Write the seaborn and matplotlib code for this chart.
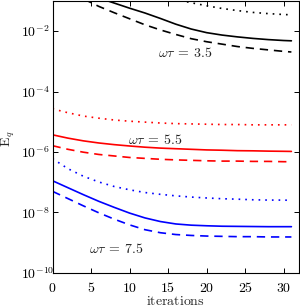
import numpy as np
import pandas as pd
import matplotlib
matplotlib.use("Agg")
import matplotlib.pyplot as plt
import seaborn as sns

# ---- data (log10 of E_q) ----
iterations = [0, 2, 4, 6, 8, 10, 12, 14, 16, 18, 20, 22, 24, 26, 28, 30, 31]

log_wt35_solid = [-0.45, -0.60, -0.75, -0.90, -1.07, -1.24, -1.40, -1.58, -1.77, -1.93,
                  -2.05, -2.13, -2.19, -2.24, -2.28, -2.31, -2.32]
log_wt35_dashed = [-0.45, -0.68, -0.93, -1.18, -1.39, -1.59, -1.79, -1.96, -2.11, -2.25,
                   -2.35, -2.43, -2.51, -2.57, -2.62, -2.67, -2.69]
log_wt35_dotted = [0.25, 0.07, -0.10, -0.27, -0.42, -0.57, -0.71, -0.84, -0.95, -1.06,
                   -1.16, -1.25, -1.32, -1.38, -1.42, -1.45, -1.46]

log_wt55_dotted = [-4.57, -4.70, -4.81, -4.88, -4.94, -4.98, -5.01, -5.04, -5.06, -5.07,
                   -5.08, -5.09, -5.09, -5.10, -5.10, -5.10, -5.10]
log_wt55_solid = [-5.43, -5.54, -5.63, -5.70, -5.755, -5.80, -5.84, -5.87, -5.89, -5.91,
                  -5.93, -5.94, -5.955, -5.96, -5.97, -5.976, -5.98]
log_wt55_dashed = [-5.79, -5.91, -6.005, -6.08, -6.13, -6.18, -6.21, -6.24, -6.26, -6.275,
                   -6.29, -6.30, -6.30, -6.31, -6.31, -6.32, -6.32]

log_wt75_dotted = [-6.22, -6.55, -6.80, -6.99, -7.14, -7.25, -7.34, -7.40, -7.45, -7.49,
                   -7.52, -7.545, -7.56, -7.58, -7.59, -7.59, -7.60]
log_wt75_solid = [-6.95, -7.18, -7.41, -7.63, -7.83, -8.02, -8.18, -8.30, -8.38, -8.42,
                  -8.44, -8.455, -8.46, -8.465, -8.47, -8.47, -8.47]
log_wt75_dashed = [-7.30, -7.54, -7.78, -8.01, -8.22, -8.41, -8.57, -8.67, -8.73, -8.76,
                   -8.78, -8.79, -8.80, -8.80, -8.81, -8.81, -8.81]

ytick_values = [1e-10, 1e-8, 1e-6, 1e-4, 1e-2]
ytick_labels = [r"$10^{-10}$", r"$10^{-8}$", r"$10^{-6}$", r"$10^{-4}$", r"$10^{-2}$"]
xtick_values = [0, 5, 10, 15, 20, 25, 30]

labels = [r"$\omega\tau\:=\:3.5$", r"$\omega\tau\:=\:5.5$", r"$\omega\tau\:=\:7.5$"]
label_x = [17.3, 13.3, 8.3]
label_logy = [-2.72, -5.60, -9.20]

# ---- style ----
sns.set_style("ticks")
plt.rcParams["mathtext.fontset"] = "cm"
plt.rcParams["font.family"] = ["DejaVu Serif"]
plt.rcParams["xtick.direction"] = "in"
plt.rcParams["ytick.direction"] = "in"

FS = 10

fig = plt.figure(figsize=(3.0, 3.07), dpi=100)
ax = fig.add_axes([0.175, 0.111, 0.822, 0.886])

x = np.array(iterations)
lw = 1.2
dash = (0, (5, 3.5))
dot = (0, (1, 3))
series = [
    (log_wt35_solid, "black", "-"),
    (log_wt35_dashed, "black", dash),
    (log_wt35_dotted, "black", dot),
    (log_wt55_solid, "#ff0000", "-"),
    (log_wt55_dashed, "#ff0000", dash),
    (log_wt55_dotted, "#ff0000", dot),
    (log_wt75_solid, "#0000ff", "-"),
    (log_wt75_dashed, "#0000ff", dash),
    (log_wt75_dotted, "#0000ff", dot),
]
for vals, col, ls in series:
    sns.lineplot(x=x, y=10.0 ** np.array(vals), color=col, linewidth=lw,
                 linestyle=ls, ax=ax)

ax.set_yscale("log")
ax.set_xlim(0, 32)
ax.set_ylim(1e-10, 1e-1)
ax.set_yticks(ytick_values)
ax.set_yticklabels(ytick_labels)
ax.yaxis.set_minor_locator(matplotlib.ticker.NullLocator())
ax.set_xticks(xtick_values)
ax.set_xticklabels([rf"${v}$" for v in xtick_values])
ax.tick_params(axis="both", which="both", top=True, right=True, labelsize=FS,
               length=3.5, width=0.7, colors="black")
ax.tick_params(axis="x", pad=6)
ax.tick_params(axis="y", pad=23)
for lbl in ax.get_yticklabels():
    lbl.set_horizontalalignment("left")
for s in ax.spines.values():
    s.set_linewidth(0.8)
    s.set_color("black")

ax.set_xlabel(r"$\mathrm{iterations}$", fontsize=FS, labelpad=-1)
ax.set_ylabel(r"$\mathrm{E}_q$", fontsize=FS)
ax.yaxis.set_label_coords(-0.142, 0.493)

for t, tx, ty in zip(labels, label_x, label_logy):
    ax.text(tx, 10.0 ** ty, t, ha="center", va="center", fontsize=FS, color="#222222")

fig.savefig("out.png", dpi=100)
